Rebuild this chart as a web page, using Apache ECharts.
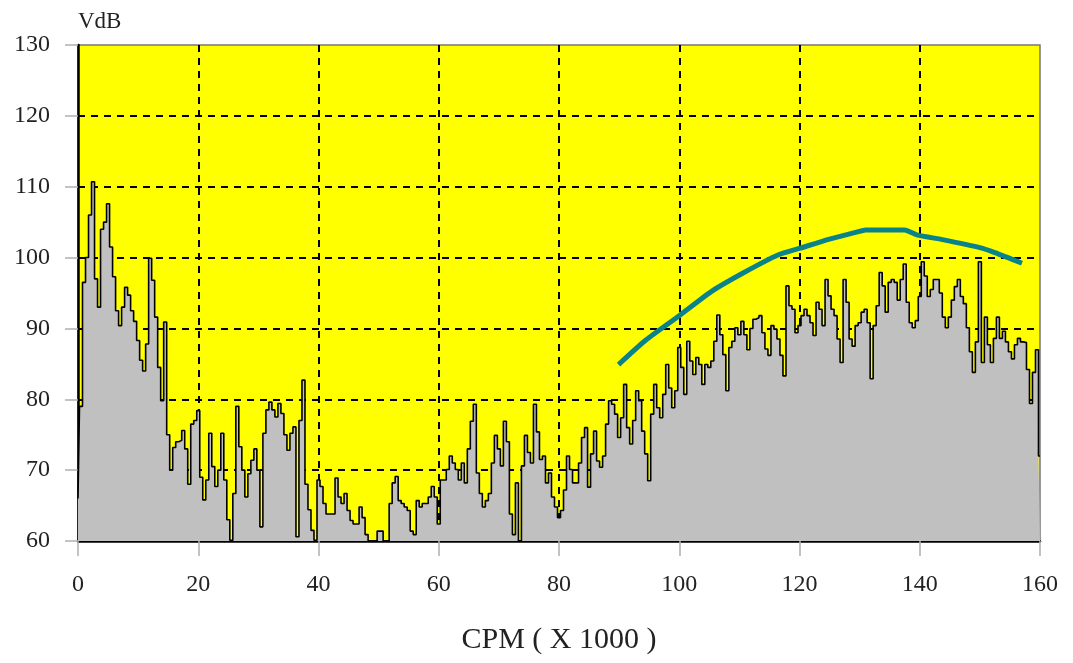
<!DOCTYPE html>
<html>
<head>
<meta charset="utf-8">
<script src="https://cdn.jsdelivr.net/npm/echarts@6/dist/echarts.min.js"></script>
<style>
html,body{margin:0;padding:0;background:#fff;}
#chart{width:1073px;height:663px;}
</style>
</head>
<body>
<div id="chart"></div>
<script>
// Spectrum amplitude (VdB), one value every 0.5 kCPM from 0 to 160
const freqStart = 0;
const freqStep = 0.5;
const spectrum = [
  66, 79, 96.5, 100, 106, 110.7, 97, 93, 104, 105,
  107.6, 101.5, 97.3, 92.5, 90.4, 93, 95.8, 94.7, 92.5, 91,
  88.3, 85.5, 84, 87.8, 99.9, 96.8, 91.6, 84.5, 79.8, 90.9,
  75, 70, 73.2, 74, 74.2, 75.6, 73, 68, 76.5, 77,
  78.4, 69, 65.8, 68.6, 75.2, 70.5, 67.7, 70, 75.2, 68.6,
  63, 60.1, 66.7, 79, 73.3, 70, 66.2, 69.5, 71.4, 73,
  70, 62, 75.2, 78.5, 79.6, 78.5, 77.5, 79.4, 78, 75,
  72.8, 75.2, 76.1, 60.6, 77, 82.7, 68, 64.4, 61.5, 60.1,
  68.6, 67.7, 65.3, 63.8, 63.8, 63.8, 68.9, 66.2, 65.3, 66.7,
  64.3, 62.9, 62.4, 62.4, 64.8, 63.3, 60.9, 60, 60, 60,
  61.4, 61.4, 60, 60, 65.3, 68.2, 69.1, 65.7, 65.3, 64.8,
  64.3, 61.4, 60.9, 65.7, 64.8, 65.3, 65.3, 66.2, 67.7, 66.2,
  62.4, 68.6, 68.6, 70.1, 72, 71, 70.1, 68.6, 71, 68.2,
  73, 76.9, 79.3, 69.6, 66.7, 64.8, 65.7, 66.7, 71, 74.9,
  73, 70.6, 76.9, 74, 63.8, 60.9, 68.2, 60, 70.6, 74.9,
  72.5, 71, 79.3, 75.4, 71.5, 72, 68.2, 69.6, 66.2, 64.8,
  63.3, 64.3, 67.2, 72, 70.1, 68.2, 68.2, 71, 74.6, 76,
  67.6, 72.3, 75.5, 71.3, 70.4, 72, 76.5, 79.8, 79.3, 77.9,
  74.6, 77.4, 82.1, 76, 73.7, 77, 81.2, 79.8, 75.5, 72.3,
  68.5, 77.9, 82.1, 78.8, 77.4, 80.7, 84.9, 81.6, 78.8, 81.2,
  87.3, 84.5, 80.7, 88.2, 85.4, 83.5, 85.9, 84.9, 82.1, 84.9,
  84.5, 85.4, 88.2, 91.9, 89.1, 86.3, 81.2, 87.3, 88.2, 90.1,
  89.1, 91, 89.1, 87, 90, 91.3, 91.5, 91.8, 89.4, 87.1,
  86.2, 90.4, 89.9, 88.5, 86.2, 83.3, 96, 93.2, 92.7, 89.4,
  90.4, 91.8, 92.7, 91.8, 90.8, 89, 93.7, 92.7, 90.4, 96.9,
  94.6, 92.7, 91.8, 88.5, 85.2, 96.9, 93.7, 88.5, 87.5, 90.4,
  90.8, 92.3, 92.7, 90.8, 82.9, 90.4, 93.2, 97.9, 96, 92.3,
  96.5, 96.9, 96.5, 94, 96.9, 99.1, 93.7, 90.8, 90.1, 91.1,
  94.5, 99.4, 97.4, 94.5, 95.5, 96.9, 96.9, 95, 91.6, 90.1,
  91.6, 94, 95.9, 96.9, 94.5, 93.5, 90.1, 86.7, 83.8, 88.1,
  99.4, 85.2, 91.6, 87.7, 85.2, 88.6, 91.6, 88.6, 89.6, 88.1,
  86.7, 85.7, 87.7, 88.6, 88.1, 88, 84.2, 79.4, 83.8, 87,
  72
];

// Alarm envelope (teal curve)
const envelopeX = [89.9, 94.5, 100, 105.5, 111, 116.5, 120, 125, 129.5, 131, 137.5, 139.5, 144, 150, 152.5, 157];
const envelopeY = [84.9, 88.4, 91.8, 95.3, 98, 100.4, 101.3, 102.6, 103.6, 103.9, 103.9, 103.2, 102.5, 101.4, 100.7, 99.2];

const xTicks = {min: 0, max: 160, interval: 20};
const yTicks = {min: 60, max: 130, interval: 10};
const xName = 'CPM ( X 1000 )';
const yName = 'VdB';

const spectrumData = spectrum.map((v, i) => [freqStart + i * freqStep, v]);
const envelopeData = envelopeX.map((x, i) => [x, envelopeY[i]]);

const font = '"Liberation Serif", "DejaVu Serif", serif';
const chart = echarts.init(document.getElementById('chart'), null, {renderer: 'canvas'});
chart.setOption({
  animation: false,
  backgroundColor: '#ffffff',
  grid: {
    left: 78, right: 33, top: 45, bottom: 122,
    show: true, backgroundColor: '#ffff00', borderColor: '#777', borderWidth: 1.5
  },
  xAxis: {
    type: 'value',
    min: xTicks.min, max: xTicks.max, interval: xTicks.interval,
    name: xName, nameLocation: 'middle', nameGap: 84,
    nameTextStyle: {fontFamily: font, fontSize: 30, color: '#222'},
    axisLine: {show: true, onZero: false, lineStyle: {color: '#000', width: 2.5}},
    axisTick: {show: true, length: 15, lineStyle: {color: '#b0b0b0', width: 1.5}},
    axisLabel: {fontFamily: font, fontSize: 24, color: '#222', margin: 32},
    splitLine: {show: true, showMinLine: false, showMaxLine: false,
      lineStyle: {color: '#000', width: 2, type: [7, 6]}}
  },
  yAxis: {
    type: 'value',
    min: yTicks.min, max: yTicks.max, interval: yTicks.interval,
    name: yName, nameLocation: 'end', nameGap: 12,
    nameTextStyle: {fontFamily: font, fontSize: 23, color: '#222', align: 'left'},
    axisLine: {show: true, lineStyle: {color: '#000', width: 2.5}},
    axisTick: {show: true, length: 13, lineStyle: {color: '#b0b0b0', width: 1.5}},
    axisLabel: {fontFamily: font, fontSize: 24, color: '#222', margin: 28},
    splitLine: {show: true, showMinLine: false, showMaxLine: false,
      lineStyle: {color: '#000', width: 2, type: [7, 6]}}
  },
  series: [
    {
      type: 'line',
      data: spectrumData,
      step: 'middle',
      showSymbol: false,
      lineStyle: {color: '#000', width: 1.6},
      areaStyle: {color: '#c0c0c0', opacity: 1, origin: 'start'},
      z: 2
    },
    {
      type: 'line',
      data: envelopeData,
      smooth: 0.2,
      showSymbol: false,
      lineStyle: {color: '#0a8289', width: 5},
      z: 3
    }
  ]
});
</script>
</body>
</html>
